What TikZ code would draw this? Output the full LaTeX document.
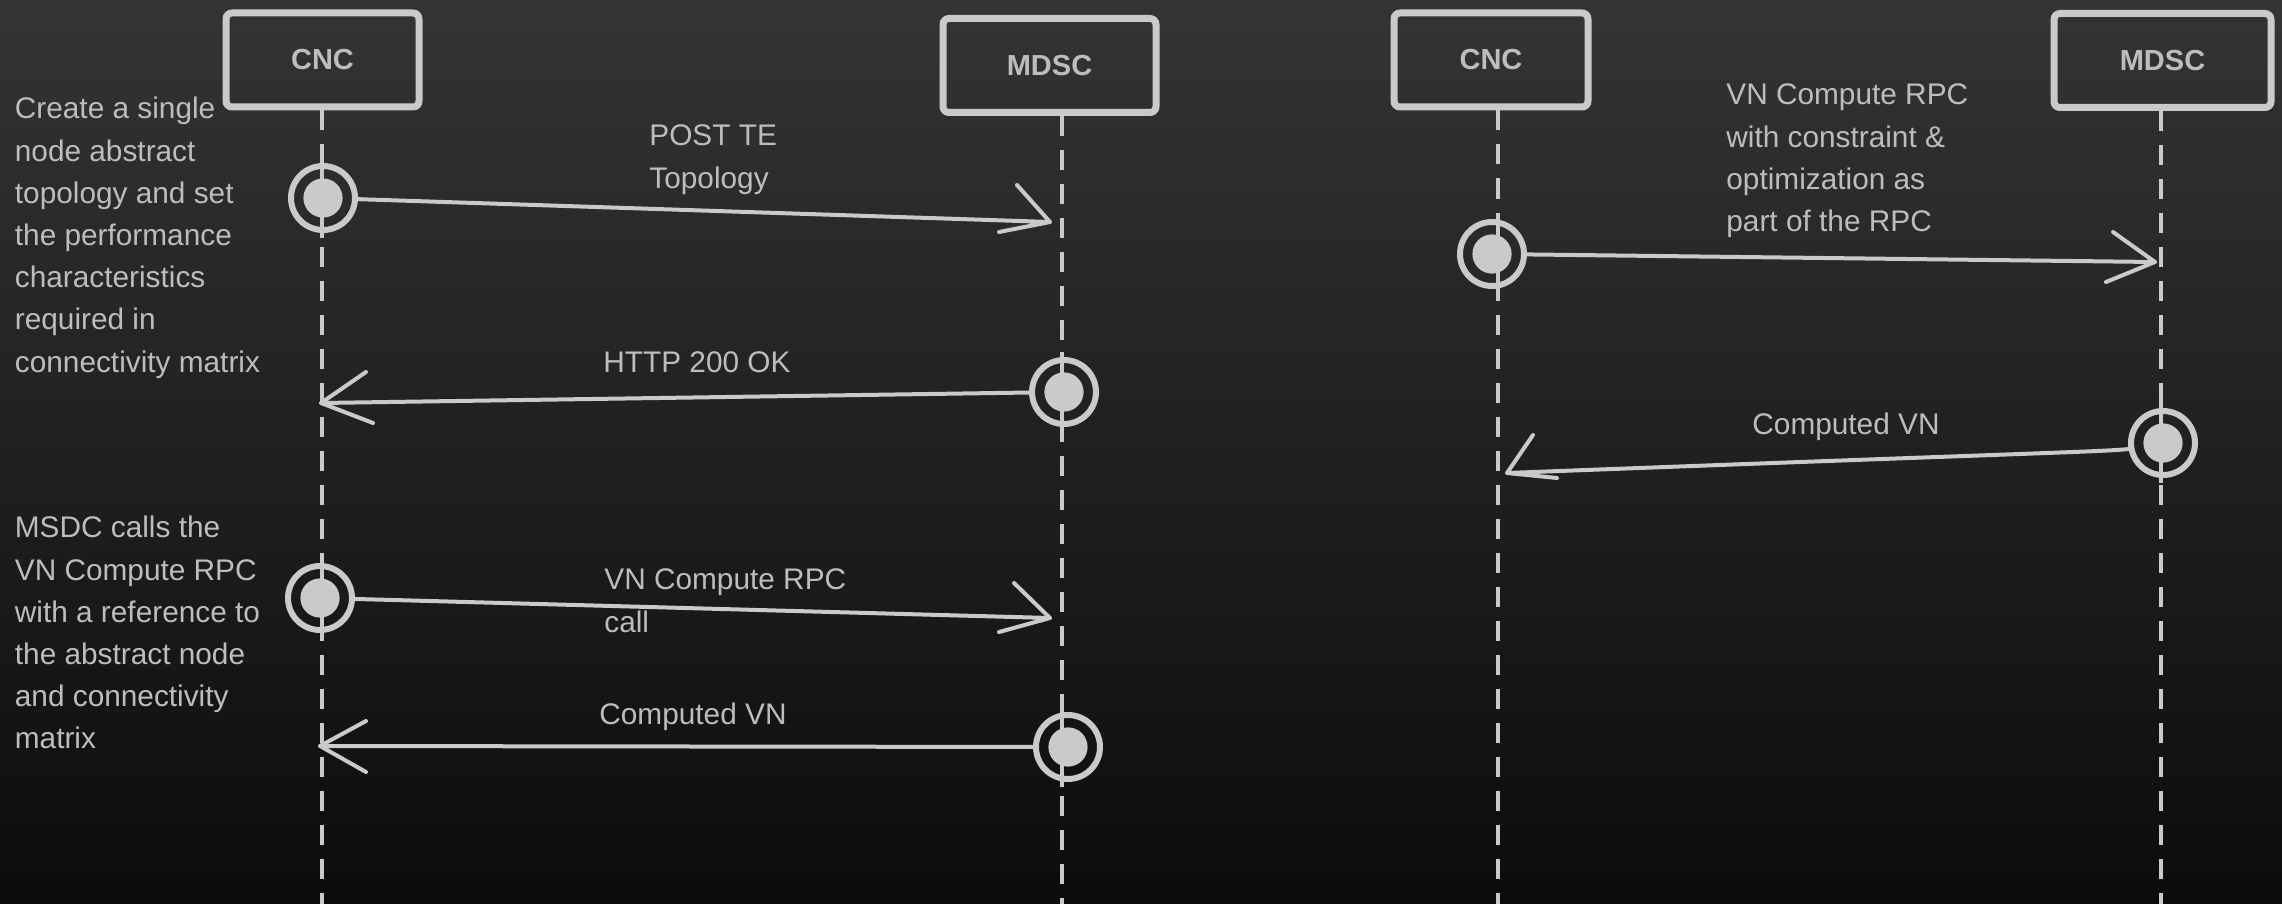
\documentclass[tikz,border=0pt]{standalone}
\usepackage{fontspec}
\setmainfont{Liberation Sans}
\usetikzlibrary{calc}
\definecolor{bgtop}{HTML}{343434}
\definecolor{bgbot}{HTML}{0C0C0C}
\definecolor{ink}{HTML}{CACACA}
\definecolor{txt}{HTML}{BDBDBD}

\begin{document}
\begin{tikzpicture}[x=0.5pt,y=-0.5pt,
  actor/.style={draw=ink, line width=3.5pt, rounded corners=3pt,
    minimum width=#1, minimum height=47pt, inner sep=0pt, text=txt,
    font=\bfseries\fontsize{14.5}{17}\selectfont},
  lifeline/.style={draw=ink, line width=2pt, dash pattern=on 10pt off 7pt},
  tick/.style={draw=ink, line width=2pt},
  act/.style={circle, draw=ink, line width=3pt, minimum size=32pt,
    inner sep=0pt,
    path picture={\fill[ink] (path picture bounding box.center) circle (9.8pt);}},
  msg/.style={draw=ink, line width=2pt, line cap=round, line join=round},
  note/.style={anchor=north west, inner sep=0pt, align=left, text=txt,
    font=\fontsize{14.9}{21.1}\selectfont}]

% background
\shade[top color=bgtop, bottom color=bgbot] (0,0) rectangle (2282,904);
\useasboundingbox (0,0) rectangle (2282,904);

% participants
\node[actor=96.5pt]  (cnc1)  at (322.5,60)  {CNC};
\node[actor=106.5pt] (mdsc1) at (1049.5,65.5) {MDSC};
\node[actor=97pt]    (cnc2)  at (1491,60)   {CNC};
\node[actor=108.5pt] (mdsc2) at (2162.5,60.5) {MDSC};

% lifeline ends
\coordinate (l1) at (322,904);
\coordinate (l2) at (1062,904);
\coordinate (l3) at (1498,904);
\coordinate (l4) at (2161,904);

\draw[lifeline] (cnc1.south -| l1) -- (l1);
\draw[lifeline] (mdsc1.south -| l2) -- (l2);
\draw[lifeline] (cnc2.south -| l3) -- (l3);
\draw[lifeline] (mdsc2.south -| l4) -- (l4);

% activations
\node[act] (c1) at (323,198) {};
\node[act] (c2) at (1064,392) {};
\node[act] (c3) at (320,598) {};
\node[act] (c4) at (1068,747) {};
\node[act] (c5) at (1492,254) {};
\node[act] (c6) at (2163,443) {};

\draw[tick] (c1.center -| l1) ++(0,-40) -- ++(0,80);
\draw[tick] (c2.center -| l2) ++(0,-40) -- ++(0,80);
\draw[tick] (c3.center -| l1) ++(0,-40) -- ++(0,80);
\draw[tick] (c4.center -| l2) ++(0,-40) -- ++(0,80);
\draw[tick] (c5.center -| l3) ++(0,-40) -- ++(0,80);
\draw[tick] (c6.center -| l4) ++(0,-40) -- ++(0,80);

% message tips
\coordinate (t1) at (1050,222);
\coordinate (t2) at (321,403);
\coordinate (t3) at (1050,618);
\coordinate (t4) at (320,746);
\coordinate (t5) at (2155,262);
\coordinate (t6) at (1507,473);

% messages with open heads
\draw[msg] (c1) -- (t1) -- ++(-33,-37) (t1) -- ++(-51,10);
\draw[msg] (c2) -- (t2) -- ++(45,-31) (t2) -- ++(52,20);
\draw[msg] (c3) -- (t3) -- ++(-36,-35) (t3) -- ++(-51,14);
\draw[msg] (c4) -- (t4) -- ++(46,-25) (t4) -- ++(46,26);
\draw[msg] (c5) -- (t5) -- ++(-42,-30) (t5) -- ++(-49,20);
\draw[msg] (c6.190) .. controls (2095,452) and (2060,452) .. (t6)
  -- ++(26,-38) (t6) -- ++(50,5);

% side notes
\node[note] (n1) at (14.5,89) {\strut Create a single\\node abstract\\topology and set\\the performance\\characteristics\\required in\\connectivity matrix};
\node[note] (n2) at (14.5,508) {\strut MSDC calls the\\VN Compute RPC\\with a reference to\\the abstract node\\and connectivity\\matrix};

% message labels
\node[note] (m1) at (649,116) {\strut POST TE\\Topology};
\node[note] (m2) at (603,343) {\strut HTTP 200 OK};
\node[note] (m3) at (604,560) {\strut VN Compute RPC\\call};
\node[note] (m4) at (599,695) {\strut Computed VN};
\node[note] (m5) at (1726,75) {\strut VN Compute RPC\\with constraint \&\\optimization as\\part of the RPC};
\node[note] (m6) at (1752,405) {\strut Computed VN};
\end{tikzpicture}
\end{document}
